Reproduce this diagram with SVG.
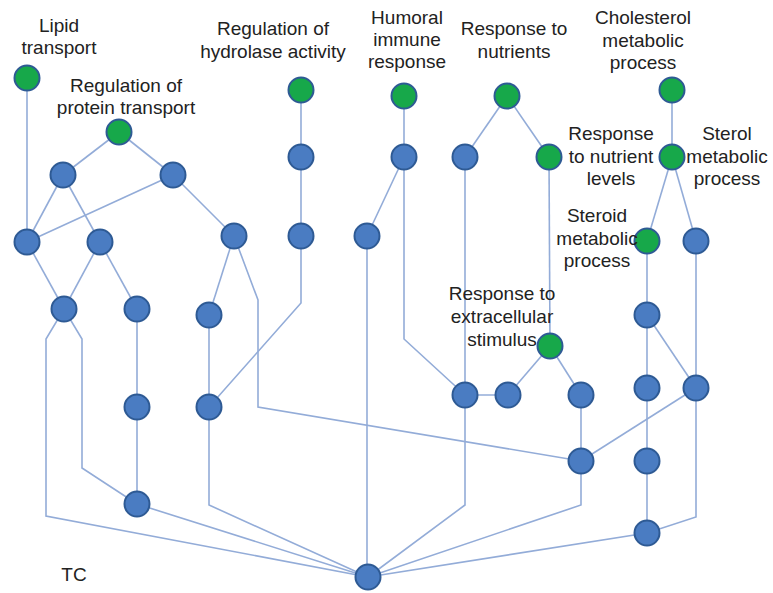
<svg xmlns="http://www.w3.org/2000/svg" width="773" height="593" viewBox="0 0 773 593">
<style>
.e{fill:none;stroke:#93acd8;stroke-width:1.6}
.g{fill:#17a84a;stroke:#2e5a94;stroke-width:2}
.b{fill:#4a7cc2;stroke:#2e5a94;stroke-width:2}
text{font-family:"Liberation Sans",Arial,sans-serif;font-size:19px;fill:#222;text-anchor:middle}
</style>
<rect width="773" height="593" fill="#fff"/>
<g id="connectors">
<polyline class="e" points="27,78 27,242"/>
<polyline class="e" points="119,132 63,175"/>
<polyline class="e" points="119,132 173,175"/>
<polyline class="e" points="63,175 27,242"/>
<polyline class="e" points="63,175 100,242"/>
<polyline class="e" points="173,175 27,242"/>
<polyline class="e" points="173,175 234,236"/>
<polyline class="e" points="27,242 64,309"/>
<polyline class="e" points="100,242 64,309"/>
<polyline class="e" points="100,242 137,309"/>
<polyline class="e" points="234,236 209,315"/>
<polyline class="e" points="234,236 258,300 258,407 581,461"/>
<polyline class="e" points="64,309 46,339 46,516 368,577"/>
<polyline class="e" points="64,309 82,339 82,468 137,504"/>
<polyline class="e" points="137,309 137,407 137,504 368,577"/>
<polyline class="e" points="209,315 209,407"/>
<polyline class="e" points="209,407 301,303 301,236"/>
<polyline class="e" points="209,407 209,505 368,577"/>
<polyline class="e" points="301,90 301,157 301,236"/>
<polyline class="e" points="404,96 404,157"/>
<polyline class="e" points="404,157 367,236"/>
<polyline class="e" points="404,157 404,339 465,395"/>
<polyline class="e" points="367,236 367,577"/>
<polyline class="e" points="507,96 465,157"/>
<polyline class="e" points="507,96 549,157"/>
<polyline class="e" points="465,157 465,395"/>
<polyline class="e" points="465,395 465,505 368,577"/>
<polyline class="e" points="549,157 550,346"/>
<polyline class="e" points="550,346 508,395"/>
<polyline class="e" points="550,346 581,395"/>
<polyline class="e" points="465,395 508,395"/>
<polyline class="e" points="581,395 581,461"/>
<polyline class="e" points="581,461 581,505 368,577"/>
<polyline class="e" points="581,461 696,388"/>
<polyline class="e" points="672,90 672,157"/>
<polyline class="e" points="672,157 647,241"/>
<polyline class="e" points="672,157 696,241"/>
<polyline class="e" points="647,241 647,315 647,388 647,461 647,533"/>
<polyline class="e" points="647,315 696,388"/>
<polyline class="e" points="696,241 696,388 696,517 647,533"/>
<polyline class="e" points="647,533 368,577"/>
</g>
<g id="n-lipid"><circle class="g" cx="27" cy="78" r="12.5"/><text x="59" y="32">Lipid</text><text x="59" y="54">transport</text></g>
<g id="n-regprot"><circle class="g" cx="119" cy="132" r="12.5"/><text x="126" y="92">Regulation of</text><text x="126" y="114">protein transport</text></g>
<g id="n-reghyd"><circle class="g" cx="301" cy="90" r="12.5"/><text x="273" y="35">Regulation of</text><text x="273" y="58">hydrolase activity</text></g>
<g id="n-humoral"><circle class="g" cx="404" cy="96" r="12.5"/><text x="407" y="24">Humoral</text><text x="407" y="46">immune</text><text x="407" y="68">response</text></g>
<g id="n-respnut"><circle class="g" cx="507" cy="96" r="12.5"/><text x="514" y="35">Response to</text><text x="514" y="58">nutrients</text></g>
<g id="n-chol"><circle class="g" cx="672" cy="90" r="12.5"/><text x="643" y="24">Cholesterol</text><text x="643" y="47">metabolic</text><text x="643" y="69">process</text></g>
<g id="n-respnutlev"><circle class="g" cx="549" cy="157" r="12.5"/><text x="611" y="140">Response</text><text x="611" y="163">to nutrient</text><text x="611" y="185">levels</text></g>
<g id="n-sterol"><circle class="g" cx="672" cy="157" r="12.5"/><text x="727" y="140">Sterol</text><text x="727" y="163">metabolic</text><text x="727" y="185">process</text></g>
<g id="n-steroid"><circle class="g" cx="647" cy="241" r="12.5"/><text x="597" y="222">Steroid</text><text x="597" y="245">metabolic</text><text x="597" y="267">process</text></g>
<g id="n-extra"><circle class="g" cx="550" cy="346" r="12.5"/><text x="502" y="300">Response to</text><text x="502" y="323">extracellular</text><text x="502" y="346">stimulus</text></g>
<g id="n-b1"><circle class="b" cx="63" cy="175" r="12.5"/></g>
<g id="n-b2"><circle class="b" cx="173" cy="175" r="12.5"/></g>
<g id="n-b3"><circle class="b" cx="27" cy="242" r="12.5"/></g>
<g id="n-b4"><circle class="b" cx="100" cy="242" r="12.5"/></g>
<g id="n-b5"><circle class="b" cx="234" cy="236" r="12.5"/></g>
<g id="n-b6"><circle class="b" cx="301" cy="157" r="12.5"/></g>
<g id="n-b7"><circle class="b" cx="301" cy="236" r="12.5"/></g>
<g id="n-b8"><circle class="b" cx="367" cy="236" r="12.5"/></g>
<g id="n-b9"><circle class="b" cx="404" cy="157" r="12.5"/></g>
<g id="n-b10"><circle class="b" cx="465" cy="157" r="12.5"/></g>
<g id="n-b11"><circle class="b" cx="696" cy="241" r="12.5"/></g>
<g id="n-b12"><circle class="b" cx="64" cy="309" r="12.5"/></g>
<g id="n-b13"><circle class="b" cx="137" cy="309" r="12.5"/></g>
<g id="n-b14"><circle class="b" cx="209" cy="315" r="12.5"/></g>
<g id="n-b15"><circle class="b" cx="137" cy="407" r="12.5"/></g>
<g id="n-b16"><circle class="b" cx="209" cy="407" r="12.5"/></g>
<g id="n-b17"><circle class="b" cx="137" cy="504" r="12.5"/></g>
<g id="n-b18"><circle class="b" cx="465" cy="395" r="12.5"/></g>
<g id="n-b19"><circle class="b" cx="508" cy="395" r="12.5"/></g>
<g id="n-b20"><circle class="b" cx="581" cy="395" r="12.5"/></g>
<g id="n-b21"><circle class="b" cx="647" cy="315" r="12.5"/></g>
<g id="n-b22"><circle class="b" cx="647" cy="388" r="12.5"/></g>
<g id="n-b23"><circle class="b" cx="696" cy="388" r="12.5"/></g>
<g id="n-b24"><circle class="b" cx="581" cy="461" r="12.5"/></g>
<g id="n-b25"><circle class="b" cx="647" cy="461" r="12.5"/></g>
<g id="n-b26"><circle class="b" cx="647" cy="533" r="12.5"/></g>
<g id="n-tc"><circle class="b" cx="368" cy="577" r="12.5"/></g>
<g id="label-tc"><text x="74" y="581">TC</text></g>
</svg>
